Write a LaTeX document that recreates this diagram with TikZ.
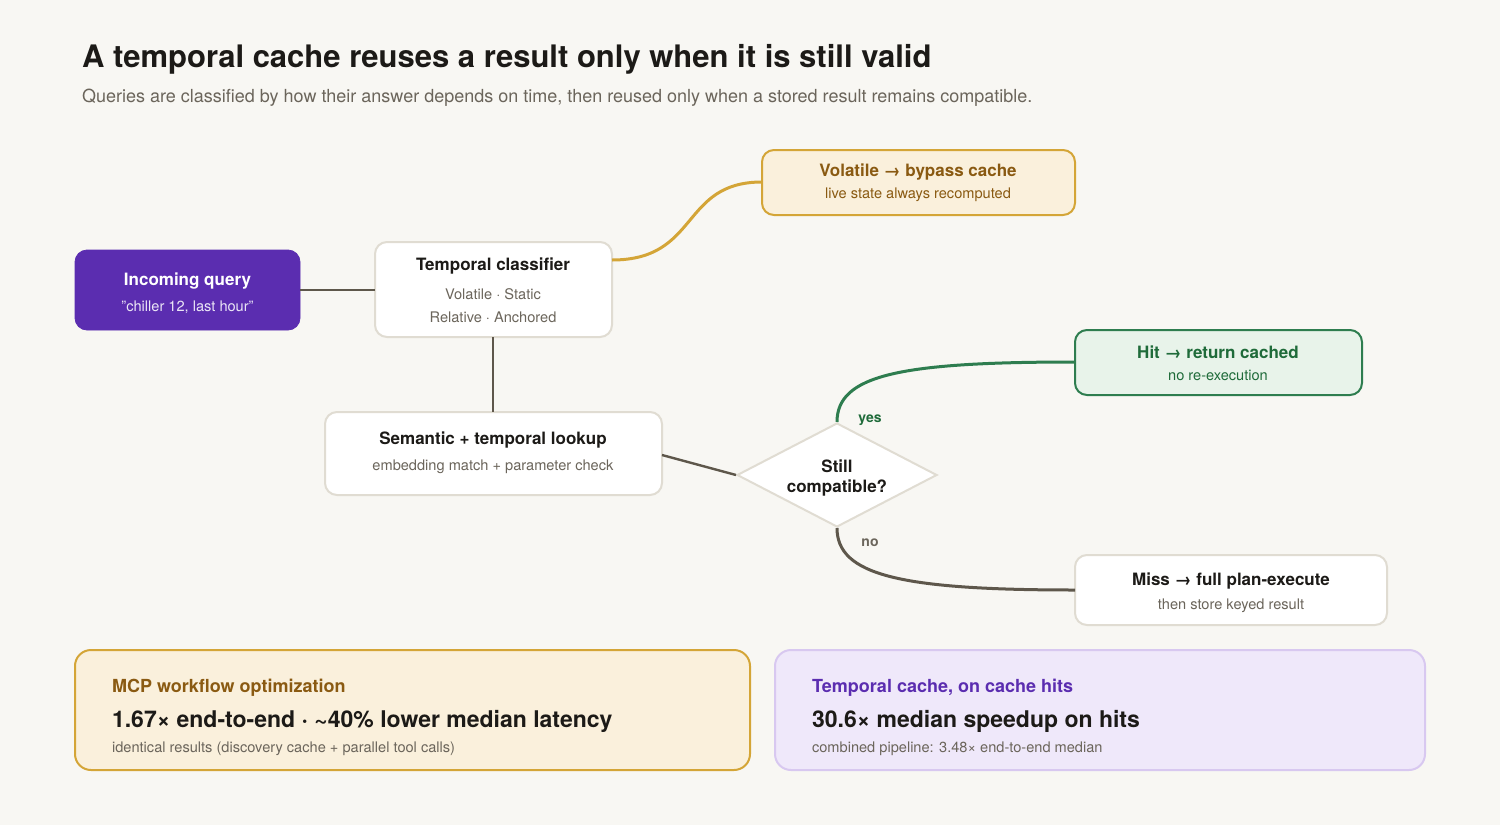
\documentclass[tikz,border=0pt]{standalone}
\usepackage{fontspec}
\setmainfont{TeX Gyre Heros}
\usetikzlibrary{shapes.geometric}
\definecolor{bg}{HTML}{F8F7F3}
\definecolor{ln}{HTML}{5E574B}
\definecolor{bd}{HTML}{E0DCD2}
\definecolor{pur}{HTML}{5B2DB0}
\definecolor{ambf}{HTML}{FAF0DC}
\definecolor{amb}{HTML}{D4A537}
\definecolor{ambt}{HTML}{8A5A12}
\definecolor{grf}{HTML}{E8F3EA}
\definecolor{gr}{HTML}{2E7D4F}
\definecolor{grt}{HTML}{1F6B3A}
\definecolor{lvf}{HTML}{EFE8FA}
\definecolor{lv}{HTML}{D8C8F0}
\definecolor{tx}{HTML}{1C1A17}
\definecolor{sub}{HTML}{6B655B}
\begin{document}
\begin{tikzpicture}[x=0.5pt,y=-0.5pt,
 box/.style={draw=bd,line width=1pt,fill=white,rounded corners=6pt},
 conn/.style={draw=ln,line width=1.2pt},
 hd/.style={font=\fontsize{8.5}{10}\selectfont\bfseries,text=tx},
 sm/.style={font=\fontsize{7.3}{9}\selectfont,text=sub}]
\fill[bg] (0,0) rectangle (1500,825);
\node[anchor=base west,font=\fontsize{15.5}{18}\selectfont\bfseries,text=tx] (title) at (75,67) {A temporal cache reuses a result only when it is still valid};
\node[anchor=base west,font=\fontsize{9}{11}\selectfont,text=sub] (subt) at (75,102) {Queries are classified by how their answer depends on time, then reused only when a stored result remains compatible.};
% nodes
\draw[fill=pur,draw=pur,rounded corners=6pt] (75,250) rectangle (300,330);
\node[hd,text=white] (q1) at (187.5,281) {Incoming query};
\node[sm,text=white!88!pur] (q2) at (187.5,307) {"chiller 12, last hour"};
\coordinate (qr) at (300,290);
\draw[box] (375,242) rectangle (612,337);
\node[hd] at (493,266) {Temporal classifier};
\node[sm] at (493,294) {Volatile · Static};
\node[sm] at (493,317) {Relative · Anchored};
\coordinate (cl) at (375,290); \coordinate (cb) at (493,337); \coordinate (cr) at (612,260);
\draw[fill=ambf,draw=amb,line width=1pt,rounded corners=6pt] (762,150) rectangle (1075,215);
\node[hd,text=ambt] at (918,172) {Volatile → bypass cache};
\node[sm,text=ambt] at (918,195) {live state always recomputed};
\coordinate (vl) at (762,182);
\draw[box] (325,412) rectangle (662,495);
\node[hd] at (493,440) {Semantic + temporal lookup};
\node[sm] at (493,467) {embedding match + parameter check};
\coordinate (st) at (493,412); \coordinate (sr) at (662,455);
\node[diamond,draw=bd,line width=1pt,fill=white,minimum width=100pt,minimum height=52pt,inner sep=0pt] (dia) at (837,475) {};
\node[hd,align=center] at (837,478) {Still\\compatible?};
\draw[fill=grf,draw=gr,line width=1pt,rounded corners=6pt] (1075,330) rectangle (1362,395);
\node[hd,text=grt] at (1218,352) {Hit → return cached};
\node[sm,text=grt] at (1218,375) {no re-execution};
\coordinate (hl) at (1075,362);
\draw[box] (1075,555) rectangle (1387,625);
\node[hd] at (1231,581) {Miss → full plan-execute};
\node[sm] at (1231,606) {then store keyed result};
\coordinate (ml) at (1075,590);
% connectors
\draw[conn] (qr) -- (cl);
\draw[conn] (cb) -- (st);
\draw[draw=amb,line width=1.5pt] (cr) .. controls (700,260) and (680,182) .. (vl);
\draw[conn] (sr) -- (dia.west);
\draw[draw=gr,line width=1.5pt] (dia.north) .. controls (837,375) and (900,362) .. (hl);
\draw[conn,line width=1.5pt] (dia.south) .. controls (837,575) and (900,590) .. (ml);
\node[font=\fontsize{7}{8}\selectfont\bfseries,text=grt] at (870,420) {yes};
\node[font=\fontsize{7}{8}\selectfont\bfseries,text=sub] at (870,543) {no};
% bottom
\draw[fill=ambf,draw=amb,line width=1pt,rounded corners=8pt] (75,650) rectangle (750,770);
\node[anchor=base west,font=\fontsize{9}{11}\selectfont\bfseries,text=ambt] at (105,692) {MCP workflow optimization};
\node[anchor=base west,font=\fontsize{11.5}{13}\selectfont\bfseries,text=tx] at (105,727) {1.67× end-to-end · \textasciitilde40\% lower median latency};
\node[anchor=base west,sm] at (105,752) {identical results (discovery cache + parallel tool calls)};
\draw[fill=lvf,draw=lv,line width=1pt,rounded corners=8pt] (775,650) rectangle (1425,770);
\node[anchor=base west,font=\fontsize{9}{11}\selectfont\bfseries,text=pur] at (805,692) {Temporal cache, on cache hits};
\node[anchor=base west,font=\fontsize{11.5}{13}\selectfont\bfseries,text=tx] at (805,727) {30.6× median speedup on hits};
\node[anchor=base west,sm] at (805,752) {combined pipeline: 3.48× end-to-end median};
\end{tikzpicture}
\end{document}
